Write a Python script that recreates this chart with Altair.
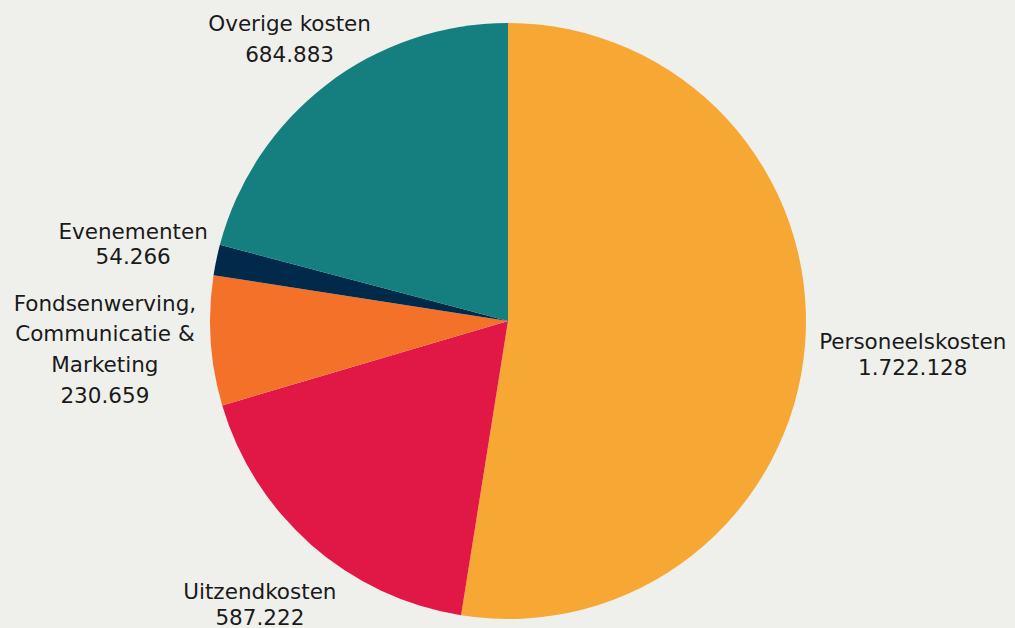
import altair as alt
import pandas as pd
import math

categories = ["Personeelskosten", "Uitzendkosten", "Fondsenwerving, Communicatie & Marketing", "Evenementen", "Overige kosten"]
values = [1722128, 587222, 230659, 54266, 684883]
label_lines = [
    ["Personeelskosten", "1.722.128"],
    ["Uitzendkosten", "587.222"],
    ["Fondsenwerving,", "Communicatie &", "Marketing", "230.659"],
    ["Evenementen", "54.266"],
    ["Overige kosten", "684.883"],
]
colors = ["#F7A733", "#E11745", "#F4712A", "#00294A", "#147F7E"]

df = pd.DataFrame({
    "cat": categories,
    "value": values,
    "order": list(range(len(categories))),
    "label": ["\n".join(l) for l in label_lines],
})

TOTAL = sum(values)
CX, CY, R = 508, 321, 298
FONT = "DejaVu Sans"

theta_scale = alt.Scale(domain=[0, TOTAL], range=[0, 2 * math.pi])

base = alt.Chart(df).transform_window(
    v1="sum(value)", sort=[alt.SortField("order")]
).transform_calculate(
    v0="datum.v1 - datum.value",
    mid="datum.v1 - datum.value / 2",
)

pie = base.mark_arc(stroke=None).encode(
    theta=alt.Theta("v0:Q", scale=theta_scale, stack=None),
    theta2="v1:Q",
    color=alt.Color("cat:N", scale=alt.Scale(domain=categories, range=colors), legend=None),
    x=alt.value(CX), y=alt.value(CY), radius=alt.value(R),
)

label_radius = {"Personeelskosten": 406, "Uitzendkosten": 376,
                "Fondsenwerving, Communicatie & Marketing": 404,
                "Evenementen": 383, "Overige kosten": 358}
line_heights = {"Personeelskosten": 26, "Uitzendkosten": 26,
                "Fondsenwerving, Communicatie & Marketing": 30.8,
                "Evenementen": 25, "Overige kosten": 30.5}

layers = [pie]
for c, lines in zip(categories, label_lines):
    lh = line_heights[c]
    t = base.transform_filter(alt.datum.cat == c).mark_text(
        font=FONT, fontSize=21.5, color="#1a1a1a", align="center",
        baseline="middle", lineBreak="\n", lineHeight=lh,
        dy=-(len(lines) - 1) * lh / 2 + 3).encode(
        theta=alt.Theta("mid:Q", scale=theta_scale, stack=None),
        text="label:N",
        x=alt.value(CX), y=alt.value(CY), radius=alt.value(label_radius[c]),
    )
    layers.append(t)

chart = alt.layer(*layers).properties(
    width=1015, height=628, background="#EFF0EC", padding=0,
    autosize=alt.AutoSizeParams(type="none"),
).configure_view(stroke=None)

chart.save("out.html", embed_options={"renderer": "svg", "actions": False})
